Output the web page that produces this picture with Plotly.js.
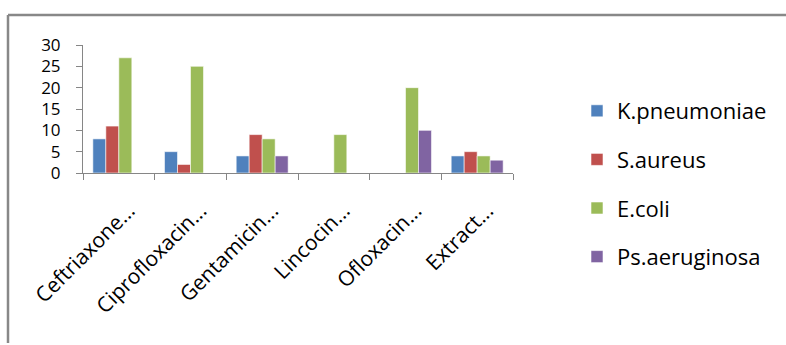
<!DOCTYPE html>
<html><head><meta charset="utf-8">
<script src="https://cdn.plot.ly/plotly-3.0.1.min.js"></script>
<style>html,body{margin:0;padding:0;background:#fff}#chart{width:786px;height:345px}</style>
</head><body><div id="chart"></div>
<script>
const categories = ["Ceftriaxone...", "Ciprofloxacin...", "Gentamicin...", "Lincocin...", "Ofloxacin...", "Extract..."];
const seriesNames = ["K.pneumoniae", "S.aureus", "E.coli", "Ps.aeruginosa"];
const kPneumoniae = [8, 5, 4, 0, 0, 4];
const sAureus = [11, 2, 9, 0, 0, 5];
const eColi = [27, 25, 8, 9, 20, 4];
const psAeruginosa = [0, 0, 4, 0, 10, 3];
const yTicks = [0, 5, 10, 15, 20, 25, 30];

const colors = ["#4F81BD", "#C0504D", "#9BBB59", "#8064A2"];
const values = [kPneumoniae, sAureus, eColi, psAeruginosa];
const font = "Open Sans, Liberation Sans, sans-serif";

const traces = values.map((v, i) => ({
  type: "bar", x: categories, y: v, name: seriesNames[i], legendgroup: "g" + i,
  marker: {color: colors[i], line: {color: "rgba(255,255,255,0.7)", width: 0.8}},
  hoverinfo: "none"
}));

const W = 786, H = 345, L = 83, R = 513, T = 45, B = 173;
const px = p => (p - L) / (R - L);
const py = p => (B - p) / (B - T);

const layout = {
  width: W, height: H,
  margin: {l: L, r: W - R, t: T, b: H - B, pad: 0},
  paper_bgcolor: "#fff", plot_bgcolor: "#fff",
  font: {family: font, size: 20, color: "#000"},
  barmode: "group", bargap: 0.275, bargroupgap: 0,
  showlegend: true,
  legend: {x: px(577), xanchor: "left", y: py(90), yanchor: "top",
    font: {family: font, size: 22, color: "#000"}, tracegroupgap: 17,
    itemwidth: 30, bgcolor: "rgba(0,0,0,0)", maxheight: 300},
  xaxis: {type: "category", showline: true, linecolor: "#868686", linewidth: 1,
    ticks: "outside", tickson: "boundaries", ticklen: 6, tickcolor: "#868686",
    tickangle: -45, tickfont: {family: font, size: 21, color: "#000"},
    ticklabelstandoff: 16, ticklabelshift: 10,
    showgrid: false, zeroline: false, fixedrange: true},
  yaxis: {range: [0, 30], tickvals: yTicks, ticktext: yTicks.map(String),
    showline: true, linecolor: "#868686", linewidth: 1,
    ticks: "outside", ticklen: 6, tickcolor: "#868686",
    tickfont: {family: font, size: 17, color: "#000"}, ticklabelstandoff: 12,
    showgrid: false, zeroline: false, fixedrange: true},
  shapes: [
    {type: "line", xref: "paper", yref: "paper", x0: px(8), x1: px(790), y0: py(15), y1: py(15), line: {color: "#888", width: 2.5}},
    {type: "line", xref: "paper", yref: "paper", x0: px(8), x1: px(8), y0: py(15), y1: py(343), line: {color: "#888", width: 2.5}}
  ]
};

Plotly.newPlot("chart", traces, layout, {staticPlot: true, displayModeBar: false});
</script></body></html>
